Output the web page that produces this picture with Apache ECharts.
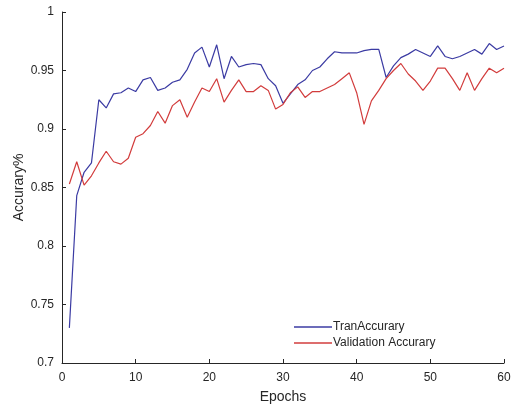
<!DOCTYPE html>
<html>
<head>
<meta charset="utf-8">
<script src="https://cdn.jsdelivr.net/npm/echarts@6/dist/echarts.min.js"></script>
<style>
  html, body { margin: 0; padding: 0; background: #fff; }
  #chart { width: 513px; height: 406px; }
</style>
</head>
<body>
<div id="chart"></div>
<script>
// accuracy per epoch
const epochs = Array.from({ length: 60 }, (_, i) => i + 1);
const tranAcc = [
  0.730, 0.843, 0.863, 0.871, 0.925, 0.918, 0.930, 0.931, 0.935, 0.932,
  0.942, 0.944, 0.933, 0.935, 0.940, 0.942, 0.951, 0.965, 0.970, 0.953,
  0.972, 0.943, 0.962, 0.953, 0.955, 0.956, 0.955, 0.943, 0.937, 0.922,
  0.930, 0.938, 0.942, 0.950, 0.953, 0.960, 0.966, 0.965, 0.965, 0.965,
  0.967, 0.968, 0.968, 0.944, 0.954, 0.961, 0.964, 0.968, 0.965, 0.962,
  0.971, 0.962, 0.960, 0.962, 0.965, 0.968, 0.964, 0.973, 0.968, 0.971
];
const valAcc = [
  0.853, 0.872, 0.852, 0.860, 0.871, 0.881, 0.872, 0.870, 0.875, 0.893,
  0.896, 0.903, 0.915, 0.905, 0.920, 0.925, 0.910, 0.923, 0.935, 0.932,
  0.943, 0.923, 0.933, 0.942, 0.932, 0.932, 0.937, 0.933, 0.917, 0.921,
  0.931, 0.936, 0.927, 0.932, 0.932, 0.935, 0.938, 0.943, 0.948, 0.931,
  0.904, 0.924, 0.933, 0.943, 0.950, 0.956, 0.947, 0.941, 0.933, 0.941,
  0.952, 0.952, 0.943, 0.933, 0.948, 0.933, 0.943, 0.952, 0.948, 0.952
];
const seriesNames = ["TranAccurary", "Validation Accurary"];

const axisColor = "#262626";
const font = "Liberation Sans, Arial, Helvetica, sans-serif";

const chart = echarts.init(document.getElementById("chart"), null, { renderer: "canvas" });

const option = {
  backgroundColor: "#fff",
  animation: false,
  textStyle: { fontFamily: font },
  grid: { left: 62, right: 9, top: 12, bottom: 43, containLabel: false, outerBoundsMode: "none" },
  legend: {
    orient: "vertical",
    left: 289,
    top: 316,
    itemGap: 4,
    itemWidth: 38,
    itemHeight: 1.5,
    icon: "rect",
    textStyle: { fontSize: 12, color: axisColor, fontFamily: font, padding: [0, 0, 0, -4] },
    data: seriesNames
  },
  xAxis: {
    type: "value",
    min: 0,
    max: 60,
    interval: 10,
    name: "Epochs",
    nameLocation: "middle",
    nameGap: 27,
    nameMoveOverlap: false,
    nameTextStyle: { fontSize: 14, color: axisColor, fontFamily: font },
    axisLine: { lineStyle: { color: axisColor, width: 1 } },
    axisTick: { inside: true, length: 4, lineStyle: { color: axisColor } },
    axisLabel: { fontSize: 12, color: axisColor, margin: 9, fontFamily: font },
    splitLine: { show: false }
  },
  yAxis: {
    type: "value",
    min: 0.7,
    max: 1,
    interval: 0.05,
    name: "Accurary%",
    nameLocation: "middle",
    nameGap: 36,
    nameMoveOverlap: false,
    nameTextStyle: { fontSize: 14, color: axisColor, fontFamily: font },
    axisLine: { show: true, lineStyle: { color: axisColor, width: 1 } },
    axisTick: { show: true, inside: true, length: 4, lineStyle: { color: axisColor } },
    axisLabel: {
      fontSize: 12,
      color: axisColor,
      margin: 8,
      fontFamily: font,
      formatter: v => String(+v.toFixed(2))
    },
    splitLine: { show: false }
  },
  series: [
    {
      name: seriesNames[0],
      type: "line",
      symbol: "none",
      data: epochs.map((e, i) => [e, tranAcc[i]]),
      lineStyle: { color: "#3b3ba3", width: 1.2 },
      itemStyle: { color: "#3b3ba3" }
    },
    {
      name: seriesNames[1],
      type: "line",
      symbol: "none",
      data: epochs.map((e, i) => [e, valAcc[i]]),
      lineStyle: { color: "#d23c3c", width: 1.2 },
      itemStyle: { color: "#d23c3c" }
    }
  ]
};

chart.setOption(option, true);
</script>
</body>
</html>
